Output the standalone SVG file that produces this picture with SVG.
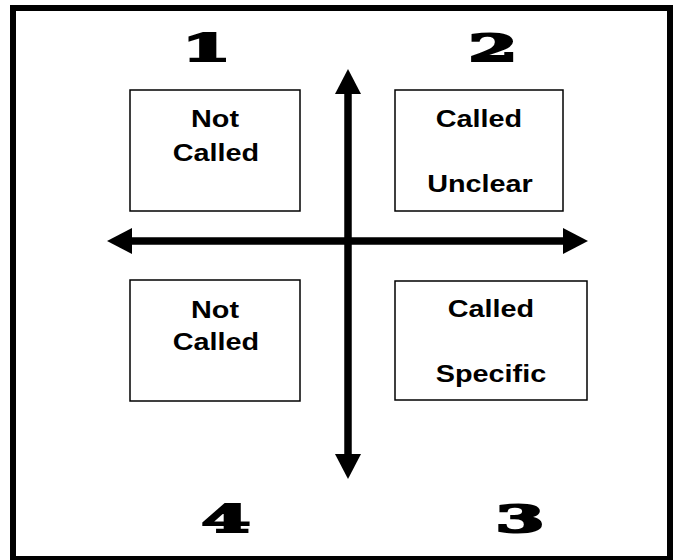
<svg xmlns="http://www.w3.org/2000/svg" width="675" height="560" viewBox="0 0 675 560">
<style>
.box{fill:#fff;stroke:#000;stroke-width:1.5}
.lbl{font-family:"Liberation Sans",Arial,sans-serif;font-weight:bold;font-size:24px;fill:#000;text-anchor:middle}
.num{font-family:"DejaVu Serif","Liberation Serif",serif;font-weight:bold;font-size:37px;fill:#000;stroke:#000;stroke-width:2.2;text-anchor:middle}
.axis{stroke:#000;stroke-width:7.5;fill:none;marker-start:url(#ah);marker-end:url(#ah)}
</style>
<defs>
<marker id="ah" markerUnits="userSpaceOnUse" markerWidth="25" markerHeight="26" refX="12" refY="13" orient="auto-start-reverse" viewBox="0 0 25 26">
<path d="M0,0 L25,13 L0,26 Z" fill="#000"/>
</marker>
</defs>
<rect x="0" y="0" width="675" height="560" fill="#fff"/>
<rect id="frame" x="13" y="8" width="657" height="551" fill="none" stroke="#000" stroke-width="6"/>
<g id="connectors">
<line class="axis" x1="120" y1="241" x2="575" y2="241"/>
<line class="axis" x1="348" y1="82" x2="348" y2="466"/>
</g>
<g id="q1">
<rect class="box" x="130" y="90" width="170" height="121"/>
<text class="lbl" transform="translate(215,127) scale(1.2,1)">Not</text>
<text class="lbl" transform="translate(216,161) scale(1.2,1)">Called</text>
</g>
<g id="q2">
<rect class="box" x="395" y="90" width="168" height="121"/>
<text class="lbl" transform="translate(479,127) scale(1.2,1)">Called</text>
<text class="lbl" transform="translate(480,192) scale(1.2,1)">Unclear</text>
</g>
<g id="q4">
<rect class="box" x="130" y="280" width="170" height="121"/>
<text class="lbl" transform="translate(215,318) scale(1.2,1)">Not</text>
<text class="lbl" transform="translate(216,350) scale(1.2,1)">Called</text>
</g>
<g id="q3">
<rect class="box" x="395" y="281" width="192" height="119"/>
<text class="lbl" transform="translate(491,317) scale(1.2,1)">Called</text>
<text class="lbl" transform="translate(491,382) scale(1.2,1)">Specific</text>
</g>
<g id="n1"><text class="num" transform="translate(206.5,61) scale(1.9,1)">1</text></g>
<g id="n2"><text class="num" transform="translate(493,61) scale(1.9,1)">2</text></g>
<g id="n4"><text class="num" transform="translate(226,532) scale(1.9,1)">4</text></g>
<g id="n3"><text class="num" transform="translate(520,532) scale(1.9,1)">3</text></g>
</svg>
